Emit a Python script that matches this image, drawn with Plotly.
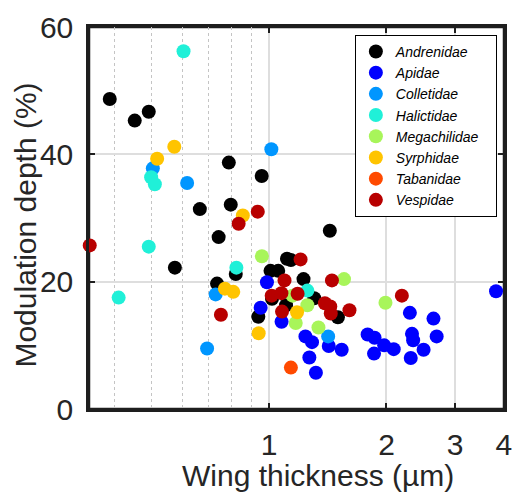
import plotly.graph_objects as go

families = ["Andrenidae", "Apidae", "Colletidae", "Halictidae",
            "Megachilidae", "Syrphidae", "Tabanidae", "Vespidae"]
colors = ["#000000", "#0000ff", "#0096ff", "#20f0d8",
          "#a8f55a", "#ffc400", "#ff4a00", "#b80000"]

andrenidae_x = [0.390, 0.452, 0.491, 0.788, 0.664, 0.797, 0.742, 0.957, 1.431, 0.573, 0.735,
                0.821, 0.938, 1.008, 1.055, 1.017, 1.111, 1.137, 1.225, 1.305, 1.105, 1.501]
andrenidae_y = [48.7, 45.3, 46.7, 38.7, 31.4, 32.1, 27.0, 36.6, 28.0, 22.2, 19.7,
                21.2, 14.5, 21.7, 21.7, 17.3, 23.6, 23.4, 20.4, 17.4, 16.3, 14.4]

apidae_x = [0.987, 0.951, 1.076, 1.239, 1.288, 1.422, 1.535, 1.268, 1.318, 1.789, 1.864,
            1.973, 2.087, 1.858, 2.296, 2.64, 2.69, 2.325, 2.341, 2.49, 2.308, 3.82]
apidae_y = [19.9, 15.9, 13.7, 11.4, 10.5, 9.9, 9.3, 8.1, 5.7, 11.7, 11.2,
            10.0, 9.4, 8.7, 15.1, 14.2, 11.4, 11.8, 10.8, 9.3, 8.0, 18.5]

colletidae_x = [0.503, 0.616, 1.013, 0.729, 0.693, 1.417]
colletidae_y = [37.8, 35.5, 40.8, 18.0, 9.5, 11.4]

halictidae_x = [0.603, 0.498, 0.509, 0.491, 0.411, 0.824, 1.253]
halictidae_y = [56.2, 36.4, 35.3, 25.5, 17.5, 22.2, 18.6]

megachilidae_x = [0.958, 1.556, 1.148, 1.253, 1.170, 1.338, 1.988]
megachilidae_y = [24.0, 20.4, 17.8, 16.3, 13.5, 12.8, 16.7]

syrphidae_x = [0.571, 0.516, 0.856, 0.770, 0.809, 0.940, 1.179]
syrphidae_y = [41.2, 39.3, 30.4, 18.9, 18.4, 11.9, 15.2]

tabanidae_x = [1.137]
tabanidae_y = [6.5]

vespidae_x = [0.3465, 0.835, 0.935, 0.752, 1.204, 1.095, 1.449, 1.183, 1.015, 1.075,
              1.390, 1.435, 1.439, 1.607, 1.079, 2.19]
vespidae_y = [25.7, 29.1, 31.0, 14.8, 23.5, 20.2, 20.2, 18.1, 17.8, 18.2,
              16.6, 16.1, 15.0, 15.5, 15.3, 17.8]

xs = [andrenidae_x, apidae_x, colletidae_x, halictidae_x,
      megachilidae_x, syrphidae_x, tabanidae_x, vespidae_x]
ys = [andrenidae_y, apidae_y, colletidae_y, halictidae_y,
      megachilidae_y, syrphidae_y, tabanidae_y, vespidae_y]

x_ticks = [1, 2, 3, 4]
x_minor = [0.4, 0.5, 0.6, 0.7, 0.8, 0.9]
y_ticks = [0, 20, 40, 60]

fig = go.Figure()
for name, col, x, y in zip(families, colors, xs, ys):
    label = "<i>" + name + "</i>"
    if name == "Megachilidae":
        label += "\u00a0\u00a0\u00a0"
    fig.add_trace(go.Scatter(
        x=x, y=y, mode="markers", name=label,
        marker=dict(size=14, color=col, line=dict(width=0)),
        cliponaxis=False,
    ))

axcol = "#1e1e1e"
lblcol = "#262626"
font_family = "Liberation Sans, Arial, sans-serif"

fig.update_layout(
    width=522, height=495,
    margin=dict(l=89, r=10, t=19, b=86),
    plot_bgcolor="white", paper_bgcolor="white",
    font=dict(family=font_family, color=lblcol),
    showlegend=True,
    legend=dict(
        x=(360 - 89) / 423, y=(409 - 27) / 390, xanchor="left", yanchor="top",
        bgcolor="white", bordercolor="#000000", borderwidth=1,
        font=dict(size=14, color="#000000", family=font_family),
    ),
    xaxis=dict(
        type="log", range=[-0.4622, 0.6025],
        tickvals=x_ticks, ticktext=[str(v) for v in x_ticks],
        ticks="inside", ticklen=6, tickwidth=2, tickcolor=axcol,
        showline=True, linecolor=axcol, linewidth=2.5, mirror="ticks",
        showgrid=True, gridcolor="#dedede", gridwidth=1.5,
        tickfont=dict(size=30, color=lblcol), ticklabelstandoff=7,
        zeroline=False,
        minor=dict(tickvals=x_minor, showgrid=True, gridcolor="#c4c4c4",
                   griddash="dot", gridwidth=1),
    ),
    yaxis=dict(
        range=[0, 60], tickvals=y_ticks,
        ticks="inside", ticklen=6, tickwidth=2, tickcolor=axcol,
        showline=True, linecolor=axcol, linewidth=2.5, mirror="ticks",
        showgrid=True, gridcolor="#dedede", gridwidth=1.5,
        tickfont=dict(size=30, color=lblcol), ticklabelstandoff=7,
        zeroline=False,
    ),
    shapes=[dict(type="rect", xref="paper", yref="paper", x0=0, y0=0, x1=1, y1=1,
                 line=dict(color=axcol, width=2.5), fillcolor="rgba(0,0,0,0)",
                 layer="below")],
    annotations=[
        dict(text="Wing thickness (µm)", xref="paper", yref="paper",
             x=(322 - 89) / 423, y=(409 - 477) / 390, xanchor="center", yanchor="middle",
             showarrow=False, font=dict(size=30, color=lblcol, family=font_family)),
        dict(text="Modulation depth (%)", xref="paper", yref="paper",
             x=(24.5 - 89) / 423, y=(409 - 221) / 390, xanchor="center", yanchor="middle",
             textangle=-90, showarrow=False,
             font=dict(size=30, color=lblcol, family=font_family)),
    ],
)

fig.write_html("out.html")
